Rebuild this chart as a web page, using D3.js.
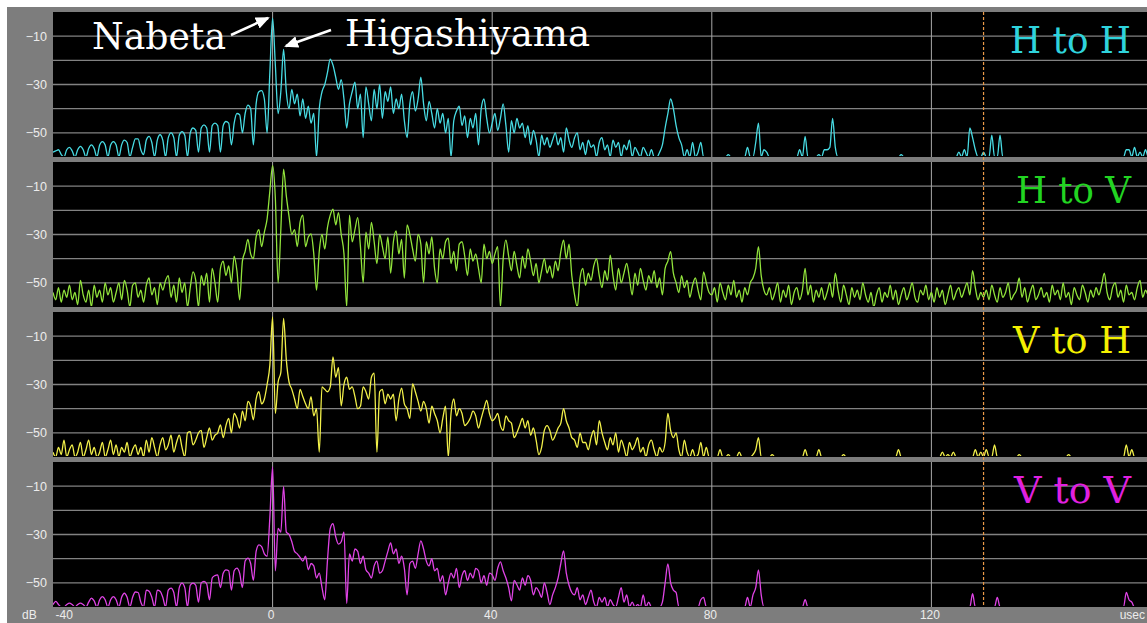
<!DOCTYPE html>
<html><head><meta charset="utf-8">
<script src="https://cdn.jsdelivr.net/npm/d3@7"></script>
<style>html,body{margin:0;padding:0;background:#fff;}svg{display:block;}</style>
</head><body>
<svg id="chart" width="1147" height="623"></svg>
<script>
// ---------- data ----------
const T_START = -40, CHUNK = 10, STEP = 0.5;   // each chunk = 10 usec, sampled every 0.5 usec
const xDomain = [-40, 160];
const yDomain = [-60, 0];
const xGridValues = [0, 40, 80, 120];
const xTickValues = [-40, 0, 40, 80, 120];
const xTickLabels = ["-40", "0", "40", "80", "120"];
const yGridValues = [-10, -20, -30, -40, -50];
const yTickValues = [-10, -30, -50];
const markerTime = 129.5;
const panelNames = ["H to H", "H to V", "V to H", "V to V"];
const annotations = ["Nabeta", "Higashiyama"];

const hhDb = [
 [-58,-57.5,-57,-59,-60,-57,-56,-57.5,-60,-57,-55.6,-57,-60,-56.5,-55,-56.5,-60,-55,-53.6,-55],
 [-60,-55,-53.6,-55,-60,-55,-53,-54,-60,-56,-52.5,-52.5,-57,-59,-53,-51.5,-54,-60,-53,-50.8],
 [-53,-60,-52,-50,-52,-60,-51,-49.5,-51,-60,-50,-48,-49,-58,-48,-46.7,-48,-58,-47,-46],
 [-47,-58,-47,-45.3,-46,-55,-46,-42,-42.5,-50,-42,-38.5,-40,-55,-38,-33,-32.5,-36,-50,-25],
 [-2.5,-22,-42,-33,-15.5,-33,-40,-32,-38,-34,-43,-36,-44,-39,-46,-42,-60,-40,-33,-30],
 [-25,-19.5,-22,-27,-32,-28,-36,-48,-38,-33,-29,-40,-34,-52,-31,-38,-45,-32,-40,-30],
 [-44,-33,-37,-31,-42,-36,-40,-34,-45,-52,-38,-33,-41,-36,-27,-38,-45,-37,-42,-48],
 [-40,-46,-42,-50,-44,-60,-45,-41,-39,-47,-43,-52,-44,-48,-42,-55,-40,-36,-44,-50],
 [-46,-42,-49,-44,-38,-47,-58,-45,-50,-44,-48,-46,-52,-47,-55,-49,-53,-60,-51,-55],
 [-52,-56,-53,-50,-55,-52,-58,-48,-53,-56,-52,-50,-57,-54,-59,-53,-56,-55,-60,-54],
 [-52,-57,-55,-60,-53,-56,-54,-60,-55,-57,-53,-60,-56,-58,-60,-56,-58,-60,-57,-60],
 [-60,-58,-55,-48,-42,-36,-40,-47,-52,-55,-60,-57,-60,-54,-60,-58,-54,-60,-60,-60],
 [-60,-60,-60,-60,-60,-60,-59,-60,-60,-60,-60,-60,-60,-56,-60,-60,-54,-46,-60,-57],
 [-58,-60,-60,-60,-60,-60,-60,-60,-60,-60,-60,-60,-57,-60,-51.5,-60,-60,-60,-60,-59],
 [-60,-57,-57,-56,-44,-56,-60,-60,-60,-60,-60,-60,-60,-60,-60,-60,-60,-60,-60,-60],
 [-60,-60,-60,-60,-60,-60,-60,-60,-60,-59,-60,-60,-60,-60,-60,-60,-60,-60,-60,-60],
 [-60,-60,-60,-60,-60,-60,-60,-60,-60,-60,-58,-60,-57,-60,-48,-52,-57,-60,-60,-58],
 [-60,-60,-51,-60,-60,-51,-60,-60,-60,-60,-60,-60,-60,-60,-60,-60,-60,-60,-60,-60],
 [-60,-60,-60,-60,-60,-60,-60,-60,-60,-60,-60,-60,-60,-60,-60,-60,-60,-60,-60,-60],
 [-60,-60,-60,-60,-60,-60,-60,-60,-60,-60,-60,-57,-57,-60,-56,-60,-58,-60,-57,-60],
 [-55]
];

const hvDb = [
 [-54,-57,-52,-58,-53,-56,-51,-57,-54,-59,-49,-55,-58,-53,-60,-51,-56,-53,-58,-50],
 [-55,-52,-58,-54,-50,-57,-49,-53,-60,-51,-50,-56,-53,-58,-51,-48,-55,-52,-59,-50],
 [-53,-49,-47,-56,-51,-58,-48,-54,-50,-60,-52,-45.5,-49,-60,-47,-51,-46,-58,-44,-50],
 [-58,-44,-41,-47,-43,-50,-39,-45,-57,-41,-37,-32,-38,-40,-31,-28,-35,-29,-23.5,-12],
 [-1.5,-15,-50,-28,-3,-14,-22.6,-30,-28,-35,-25,-22,-35,-31,-29.8,-38,-53,-37,-30,-36],
 [-27,-22,-19.5,-26,-21,-30,-38,-60,-22,-33,-28,-23,-35,-50,-29,-36,-25,-33,-42,-30],
 [-35,-40,-31,-46,-33,-28.5,-38,-32,-48,-26,-30,-36,-41,-30,-34,-50,-33,-38,-31,-44],
 [-50,-36,-40,-33,-31.5,-42,-37,-45,-34,-33,-39,-47,-36,-41,-38,-44,-50,-34,-40,-37],
 [-42,-38,-35,-60,-40,-32.3,-39,-45,-37,-43,-48,-39,-44,-36,-41,-47,-42,-50,-45,-40],
 [-46,-43,-48,-41,-45,-37,-32.3,-40,-34,-47,-55,-60,-48,-44,-51,-46,-49,-43,-40,-47],
 [-52,-45,-49,-38.5,-47,-53,-44,-50,-46,-42,-48,-55,-46,-51,-44,-49,-53,-47,-50,-45],
 [-52,-48,-55,-44,-41,-37.1,-46,-50,-54,-47,-52,-49,-56,-51,-48,-53,-57,-45.5,-50,-54],
 [-55,-52,-58,-50,-54,-57,-51,-55,-49,-56,-53,-58,-52,-55,-50,-48,-44,-35,-47,-53],
 [-55,-52,-57,-54,-50,-58,-53,-56,-51,-59,-54,-52,-57,-53,-44,-55,-51,-58,-53,-56],
 [-52,-57,-54,-50,-56,-46,-53,-58,-51,-55,-59,-52,-56,-53,-57,-50,-55,-58,-54,-60],
 [-55,-52,-58,-54,-56,-51,-57,-53,-59,-55,-52,-57,-54,-50,-56,-58,-53,-55,-51,-57],
 [-54,-58,-52,-56,-53,-59,-55,-51,-57,-54,-52,-56,-53,-50,-55,-45,-52,-57,-54,-56],
 [-53,-57,-51,-55,-58,-52,-56,-54,-50,-57,-55,-53,-48,-56,-52,-58,-54,-51,-57,-55],
 [-52,-56,-54,-58,-51,-55,-53,-57,-50,-56,-54,-59,-52,-55,-57,-51,-54,-58,-53,-56],
 [-52,-55,-51,-46,-54,-57,-52,-50,-56,-53,-58,-51,-55,-54,-57,-52,-49,-56,-53,-55],
 [-52]
];

const vhDb = [
 [-58,-60,-56,-59,-53,-60,-57,-55,-60,-58,-54,-60,-57,-53,-59,-56,-60,-58,-54,-60],
 [-57,-53,-59,-55,-60,-56,-58,-54,-60,-57,-55,-59,-56,-60,-53,-58,-52,-56,-60,-55],
 [-52,-57,-55,-51,-58,-54,-51,-56,-60,-50,-49.5,-55,-53,-50,-49,-56,-52,-48,-53,-51],
 [-50,-46.7,-52,-47,-44,-50,-42,-44,-48,-41,-45,-37,-39,-44.6,-36,-33,-38,-36,-30,-22],
 [-2,-42,-29,-25,-2.6,-19.8,-29,-32,-36,-40,-32,-35,-38,-40,-35,-43,-40,-58,-31,-32],
 [-33,-31,-18.6,-27,-23,-38.8,-30,-27,-32,-31,-35,-40,-39,-31,-33,-36,-27,-25.3,-58,-33],
 [-32,-38,-34,-36,-34,-45,-36,-31.5,-38,-40,-44,-29.8,-33,-37,-41,-37,-40,-46,-39,-42],
 [-45,-50,-44,-39,-60,-42,-36,-43,-40,-42,-47,-46,-44,-41,-43,-48,-44,-40,-36.6,-42],
 [-45,-44,-42,-47,-49,-43,-45,-46,-52,-50,-47,-44,-48,-45,-51,-48,-53,-59,-56,-49],
 [-47,-49,-53,-51,-48,-46,-40,-45,-48,-52,-53,-56,-50,-54,-54,-57,-52,-49,-55,-45],
 [-50,-54,-57,-52,-55,-50,-58,-53,-56,-60,-54,-57,-55,-52,-58,-56,-60,-55,-53,-57],
 [-60,-56,-58,-54,-42,-49,-52,-50,-57,-60,-53,-58,-60,-57,-60,-59,-54,-60,-56,-60],
 [-60,-60,-60,-57,-60,-60,-59,-60,-60,-60,-58,-60,-60,-60,-60,-59,-57,-52,-60,-60],
 [-60,-60,-59,-60,-60,-60,-60,-60,-60,-60,-60,-60,-60,-60,-57,-60,-60,-60,-60,-57],
 [-60,-60,-60,-60,-60,-60,-60,-60,-59,-60,-60,-60,-60,-60,-60,-60,-60,-60,-60,-60],
 [-60,-60,-60,-60,-60,-60,-60,-60,-57,-60,-60,-60,-60,-60,-60,-60,-60,-60,-60,-60],
 [-60,-60,-60,-60,-58,-60,-59,-60,-58,-60,-60,-60,-60,-60,-60,-60,-57,-60,-58,-60],
 [-57,-60,-60,-55,-60,-60,-60,-60,-60,-60,-60,-60,-59,-60,-60,-60,-60,-60,-60,-60],
 [-60,-60,-60,-60,-60,-60,-60,-60,-60,-60,-59,-60,-60,-60,-60,-60,-60,-60,-60,-60],
 [-60,-60,-60,-60,-60,-60,-60,-60,-60,-60,-60,-55,-60,-57,-60,-60,-60,-60,-60,-60],
 [-60]
];

const vvDb = [
 [-59,-57.7,-59,-60,-60,-59,-58.4,-59,-60,-59,-58.4,-59,-60,-58,-56.3,-57.5,-60,-57,-55.7,-57],
 [-60,-57,-55.7,-57,-60,-56,-54.3,-56,-60,-56,-53.8,-54,-58,-60,-53,-53.5,-56,-60,-53,-53.5],
 [-56,-60,-53,-52.2,-54,-60,-52,-50.1,-52,-60,-51,-50.1,-51,-58,-50,-49.4,-50.5,-57,-48,-47],
 [-46.7,-52,-46,-44.6,-45,-53,-45,-43.9,-46,-52,-41,-39.8,-42,-49,-37,-34.3,-35,-38,-39,-23],
 [-2,-45,-27.5,-29,-10.2,-29,-30,-33,-37,-38,-39.5,-41,-39,-44.6,-42,-43,-48,-46,-52,-57],
 [-40.5,-27.5,-25.5,-31,-34,-33,-29,-58.5,-38,-41,-36,-37,-42,-39,-44.6,-46,-48,-43,-41,-46],
 [-45,-41,-37,-33.5,-38,-36,-42,-39,-44,-55,-42,-41,-44,-38,-32.6,-36,-41,-43,-40,-45],
 [-44,-49.5,-47,-55,-50,-46,-48,-44,-52,-47,-45,-49,-46,-48,-44,-45,-50,-47,-51,-46],
 [-46.7,-49,-44,-41.3,-45,-48,-52,-57.5,-49,-50.8,-53,-48,-51,-47,-49,-55,-52,-53.5,-56,-50],
 [-54,-59,-55,-52,-48,-42,-36.8,-46,-51,-54,-55,-52,-57,-55,-59,-56,-53,-58,-60,-56],
 [-58,-56,-60,-57,-59,-60,-56,-52,-58,-55,-60,-58,-60,-59,-60,-55,-60,-58,-60,-60],
 [-60,-60,-58,-50,-42.2,-50,-53,-54,-60,-60,-60,-60,-60,-60,-60,-60,-57,-56,-60,-60],
 [-60,-60,-60,-60,-60,-60,-60,-60,-60,-60,-60,-60,-60,-56,-60,-55,-52,-44.6,-55,-60],
 [-60,-60,-60,-60,-60,-60,-60,-60,-60,-60,-60,-60,-60,-60,-57,-60,-60,-60,-60,-60],
 [-60,-60,-60,-60,-60,-60,-60,-60,-60,-60,-60,-60,-60,-60,-60,-60,-60,-60,-60,-60],
 [-60,-60,-60,-60,-60,-60,-60,-60,-60,-60,-60,-60,-60,-60,-60,-60,-60,-60,-60,-60],
 [-60,-60,-60,-60,-60,-60,-60,-60,-60,-60,-60,-60,-60,-60,-60,-54.5,-60,-60,-60,-60],
 [-60,-60,-60,-60,-56,-60,-60,-60,-60,-60,-60,-60,-60,-60,-60,-60,-60,-60,-60,-60],
 [-60,-60,-60,-60,-60,-60,-60,-60,-60,-60,-60,-60,-60,-60,-60,-60,-60,-60,-60,-60],
 [-60,-60,-60,-60,-60,-60,-60,-60,-60,-60,-60,-54,-57,-58,-60,-60,-60,-60,-60,-60],
 [-60]
];

// ---------- drawing ----------
const W = 1147, H = 623;
const PLOT_L = 53, PLOT_R = 1151, PH = 145;
const panelTops = [12, 162, 312, 462];
const lineColors = ["#48dce4", "#92e43c", "#f2f04a", "#e044e6"];
const labelColors = ["#2fd3dc", "#22d422", "#f4f000", "#e020e0"];
const labelLens = [121, 115, 118, 117];
const series = [hhDb, hvDb, vhDb, vvDb];

function toPoints(chunks) {
  const out = [];
  chunks.forEach((c, ci) => c.forEach((v, j) => out.push({ t: T_START + CHUNK * ci + STEP * j, v })));
  return out;
}

const svg = d3.select("#chart");
svg.append("rect").attr("x", 7).attr("y", 7).attr("width", W - 7).attr("height", H - 7).attr("fill", "#7d7d7d");

const defs = svg.append("defs");
defs.append("marker").attr("id", "ah").attr("markerUnits", "userSpaceOnUse")
  .attr("markerWidth", 14).attr("markerHeight", 12).attr("refX", 12).attr("refY", 6)
  .attr("orient", "auto")
  .append("path").attr("d", "M0,0 L14,6 L0,12 Z").attr("fill", "#fff");

const x = d3.scaleLinear().domain(xDomain).range([PLOT_L, PLOT_R]);

panelTops.forEach((top, i) => {
  const y = d3.scaleLinear().domain(yDomain).range([top + PH, top]);
  const g = svg.append("g");
  defs.append("clipPath").attr("id", "clip" + i)
    .append("rect").attr("x", PLOT_L).attr("y", top).attr("width", W - PLOT_L).attr("height", PH - 1);
  g.append("rect").attr("x", PLOT_L).attr("y", top).attr("width", W - PLOT_L).attr("height", PH).attr("fill", "#000");

  g.selectAll("line.hg").data(yGridValues).join("line").attr("class", "hg")
    .attr("x1", PLOT_L).attr("x2", W).attr("y1", d => y(d)).attr("y2", d => y(d))
    .attr("stroke", "#828282").attr("stroke-width", 1.4);
  g.selectAll("line.vg").data(xGridValues).join("line").attr("class", "vg")
    .attr("x1", d => x(d)).attr("x2", d => x(d)).attr("y1", top).attr("y2", top + PH)
    .attr("stroke", "#a8a8a8").attr("stroke-width", 1);

  const line = d3.line().x(d => x(d.t)).y(d => y(d.v)).curve(d3.curveMonotoneX);
  g.append("path").datum(toPoints(series[i]))
    .attr("clip-path", "url(#clip" + i + ")")
    .attr("d", line).attr("fill", "none")
    .attr("stroke", lineColors[i]).attr("stroke-width", 1.3).attr("stroke-linejoin", "round");

  // y-axis labels
  const ax = svg.append("g").attr("transform", `translate(${PLOT_L},0)`)
    .call(d3.axisLeft(y).tickValues(yTickValues).tickSize(0).tickPadding(6).tickFormat(d3.format("d")));
  ax.select(".domain").remove();
  ax.selectAll("text").attr("fill", "#ececec").style("font-family", "Liberation Sans, Arial, sans-serif").style("font-size", "12.5px");

  // panel name
  svg.append("text").attr("x", 1131).attr("y", top + 41).attr("text-anchor", "end")
    .attr("textLength", labelLens[i]).attr("lengthAdjust", "spacingAndGlyphs")
    .style("font-family", "DejaVu Serif, serif").style("font-size", "38px")
    .attr("fill", labelColors[i]).text(panelNames[i]);
});

// marker line
svg.append("line").attr("x1", x(markerTime)).attr("x2", x(markerTime)).attr("y1", 12).attr("y2", panelTops[3] + PH)
  .attr("stroke", "#eb9a48").attr("stroke-width", 1.2).attr("stroke-dasharray", "3,2");

// bottom axis labels
const bx = svg.append("g").attr("transform", `translate(0,${panelTops[3] + PH})`)
  .call(d3.axisBottom(x).tickValues(xTickValues).tickSize(0).tickPadding(3.5).tickFormat((d, k) => xTickLabels[k]));
bx.select(".domain").remove();
bx.selectAll("text").attr("fill", "#ececec").style("font-family", "Liberation Sans, Arial, sans-serif").style("font-size", "12px")
  .attr("dx", d => d === -40 ? 2 : -2).attr("text-anchor", d => d === -40 ? "start" : "middle");
svg.append("text").attr("x", 22).attr("y", 619).attr("fill", "#ececec")
  .style("font-family", "Liberation Sans, Arial, sans-serif").style("font-size", "12px").text("dB");
svg.append("text").attr("x", 1145).attr("y", 619).attr("text-anchor", "end").attr("fill", "#ececec")
  .style("font-family", "Liberation Sans, Arial, sans-serif").style("font-size", "12px").text("usec");

// annotations
svg.append("text").attr("x", 92).attr("y", 49).attr("textLength", 134).attr("lengthAdjust", "spacingAndGlyphs")
  .style("font-family", "DejaVu Serif, serif").style("font-size", "37px").attr("fill", "#fff").text(annotations[0]);
svg.append("text").attr("x", 345).attr("y", 46).attr("textLength", 245).attr("lengthAdjust", "spacingAndGlyphs")
  .style("font-family", "DejaVu Serif, serif").style("font-size", "37px").attr("fill", "#fff").text(annotations[1]);
svg.append("line").attr("x1", 231).attr("y1", 35).attr("x2", 268).attr("y2", 18)
  .attr("stroke", "#fff").attr("stroke-width", 2.5).attr("marker-end", "url(#ah)");
svg.append("line").attr("x1", 331).attr("y1", 30).attr("x2", 286).attr("y2", 46)
  .attr("stroke", "#fff").attr("stroke-width", 2.5).attr("marker-end", "url(#ah)");
</script>
</body></html>
